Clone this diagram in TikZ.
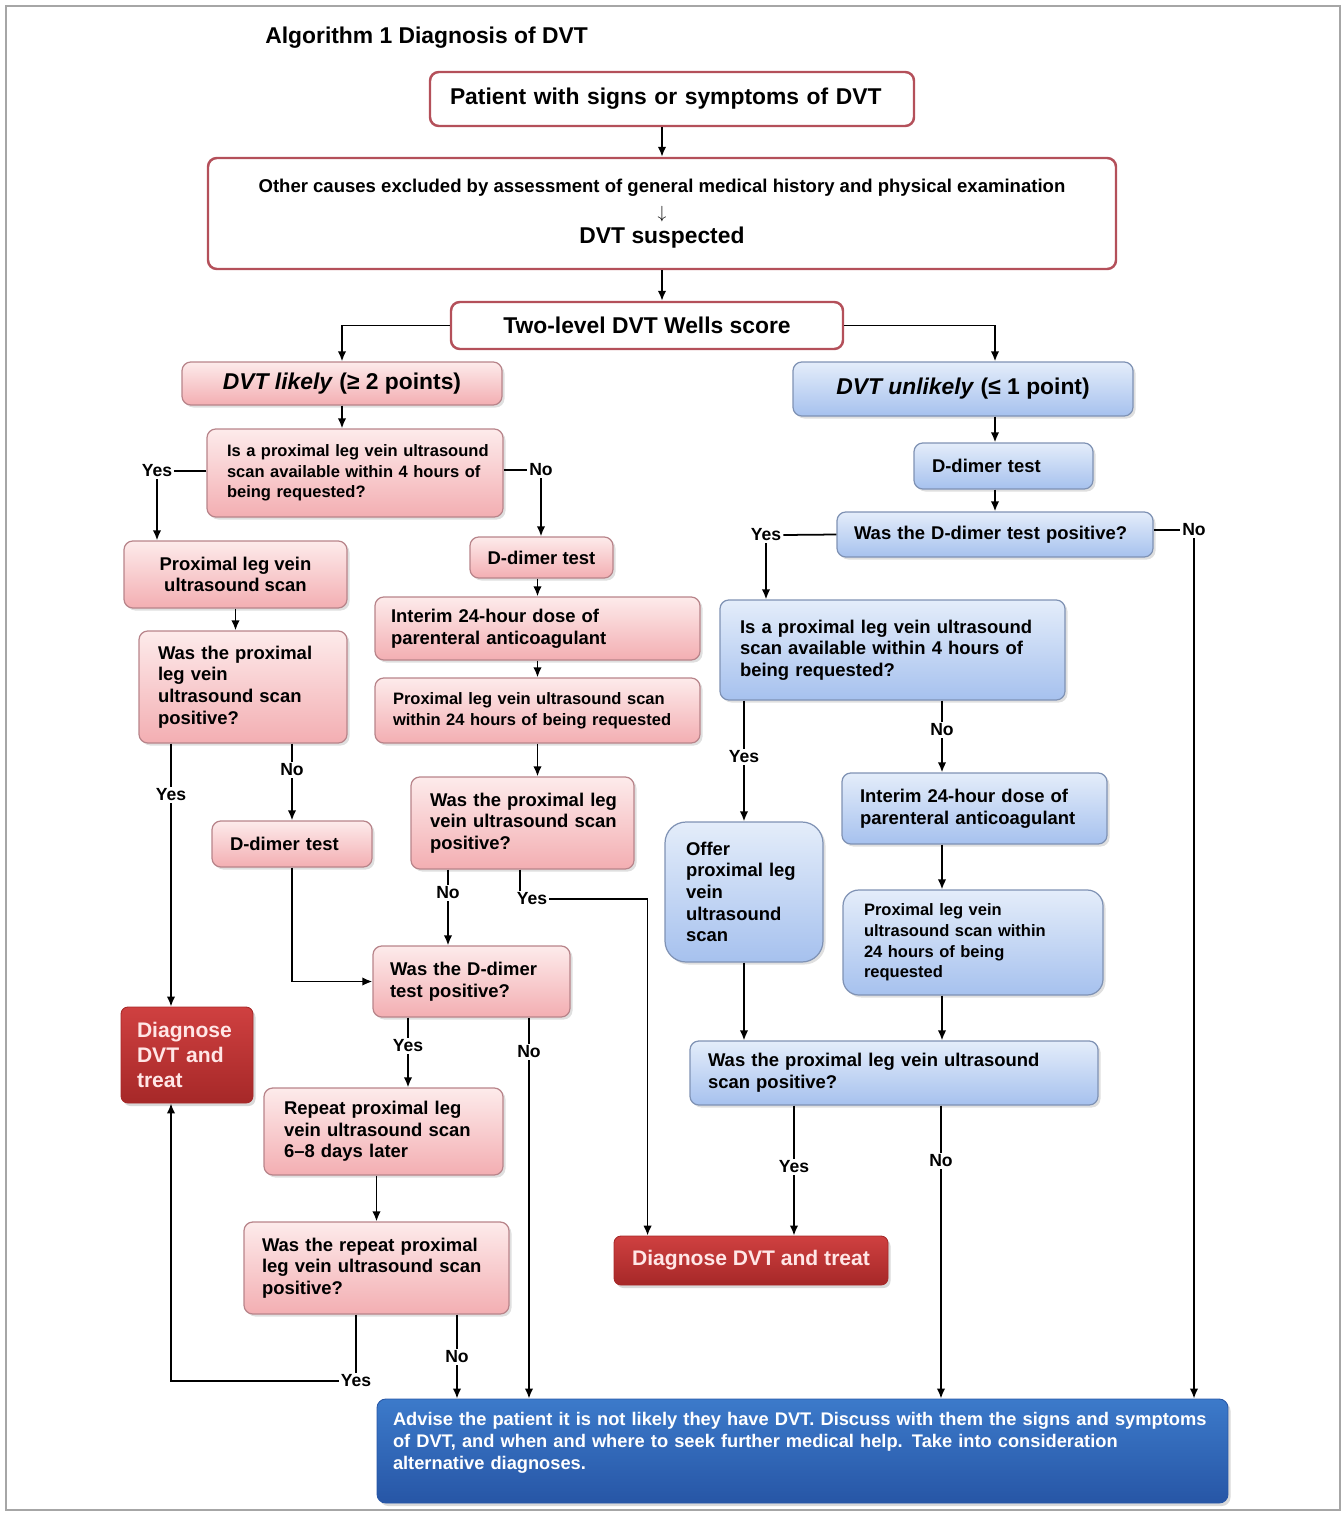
\documentclass[tikz,border=0pt]{standalone}
\usepackage{fontspec}
\setmainfont{Liberation Sans}
\usetikzlibrary{arrows.meta,positioning,shadows}

\definecolor{topred}{HTML}{B4505A}
\definecolor{pinkline}{HTML}{B8848A}
\definecolor{pinktop}{HTML}{FDEBEB}
\definecolor{pinkbot}{HTML}{F3AEB2}
\definecolor{blueline}{HTML}{7F92B4}
\definecolor{bluetop}{HTML}{E4EDFA}
\definecolor{bluebot}{HTML}{A6C1EE}
\definecolor{redtop}{HTML}{CF4040}
\definecolor{redbot}{HTML}{A62828}
\definecolor{redtext}{HTML}{FFE6E6}
\definecolor{advtop}{HTML}{3C7ACA}
\definecolor{advbot}{HTML}{2756A6}

\newcommand\szbig{\fontsize{13}{15}\selectfont\bfseries}
\newcommand\szdiag{\fontsize{12}{14.2}\selectfont\bfseries}
\newcommand\szmid{\fontsize{10.5}{12.3}\selectfont\bfseries}
\newcommand\szsm{\fontsize{9.4}{11.8}\selectfont\bfseries}
\newcommand\szlab{\fontsize{10}{12}\selectfont\bfseries}
\newdimen\bxunit \bxunit=0.2mm

\tikzset{
  % box size in pixels: width, height, left padding
  bx/.code n args={3}{%
    \pgfmathsetmacro\bxtw{#1*0.2}%
    \edef\bxtmp{\noexpand\pgfkeysalso{text width=\bxtw mm}}\bxtmp
    \pgfkeysalso{minimum width=#1*0.2mm, minimum height=#2*0.2mm,
      inner xsep=0pt, align=left, execute at begin node={\leftskip=#3\bxunit}}},
  bxc/.style 2 args={minimum width=#1*0.2mm, minimum height=#2*0.2mm, align=center},
  topbox/.style={draw=topred, line width=1.4pt, rounded corners=5pt, fill=white, font=\szbig},
  pinkbox/.style={draw=pinkline, line width=0.7pt, rounded corners=5pt,
    top color=pinktop, bottom color=pinkbot, font=\szmid,
    drop shadow={shadow xshift=0.5mm, shadow yshift=-0.5mm, opacity=0.25}},
  bluebox/.style={draw=blueline, line width=0.7pt, rounded corners=5pt,
    top color=bluetop, bottom color=bluebot, font=\szmid,
    drop shadow={shadow xshift=0.5mm, shadow yshift=-0.5mm, opacity=0.25}},
  redbox/.style={draw=redbot, line width=0.5pt, rounded corners=4pt,
    top color=redtop, bottom color=redbot, text=redtext, font=\szdiag,
    drop shadow={shadow xshift=0.5mm, shadow yshift=-0.6mm, opacity=0.3}},
  advbox/.style={draw=advbot, line width=0.5pt, rounded corners=5pt,
    top color=advtop, bottom color=advbot, text=white, font=\fontsize{10.4}{12.5}\selectfont\bfseries,
    drop shadow={shadow xshift=0.5mm, shadow yshift=-0.6mm, opacity=0.3}},
  lbl/.style={font=\szlab, inner sep=1pt},
  arr/.style={-{Latex[length=2mm,width=1.7mm]}, line width=1pt},
  ln/.style={line width=1pt}
}

\begin{document}
\begin{tikzpicture}[x=0.2mm,y=-0.2mm]
  \useasboundingbox (0,0) rectangle (1343,1513);
  \draw[gray!70, line width=0.6pt] (6,6) rectangle (1340,1510);

  \node[anchor=west, font=\szbig, inner sep=0pt] (title) at (265,38) {Algorithm 1 Diagnosis of DVT};

  % top of the chart
  \node[topbox, bx={484}{54}{20}] (pat) at (672,99) {Patient with signs or symptoms of DVT};
  \node[topbox, bxc={908}{111}, font=\fontsize{10.55}{14.2}\selectfont\bfseries] (other) at (662,213.5)
    {Other causes excluded by assessment of general medical history and physical examination\\[1pt]
     {\fontsize{10}{12}\selectfont$\downarrow$}\\ {\szbig DVT suspected}};
  \node[topbox, bxc={392}{47}] (wells) at (647,325.5) {Two-level DVT Wells score};

  % DVT likely branch
  \node[pinkbox, bxc={320}{43}, font=\szbig] (likely) at (342,383.5) {\textit{DVT likely} (≥ 2 points)};
  \node[pinkbox, bx={296}{88}{20}, font=\szsm] (availL) at (355,473)
    {Is a proximal leg vein ultrasound\\ scan available within 4 hours of\\ being requested?};
  \node[pinkbox, bxc={223}{67}] (plvL) at (235.5,574.5) {Proximal leg vein\\ ultrasound scan};
  \node[pinkbox, bx={208}{112}{19}] (posL) at (243,687)
    {Was the proximal\\ leg vein\\ ultrasound scan\\ positive?};
  \node[pinkbox, bx={160}{46}{18}] (ddimL) at (292,844) {D-dimer test};
  \node[pinkbox, bxc={143}{41}] (ddimM) at (541.5,557.5) {D-dimer test};
  \node[pinkbox, bx={325}{63}{16}] (interimM) at (537.5,628.5)
    {Interim 24-hour dose of\\ parenteral anticoagulant};
  \node[pinkbox, bx={325}{65}{18}, font=\szsm] (plv24M) at (537.5,710.5)
    {Proximal leg vein ultrasound scan\\ within 24 hours of being requested};
  \node[pinkbox, bx={223}{92}{19}] (posM) at (522.5,823)
    {Was the proximal leg\\ vein ultrasound scan\\ positive?};
  \node[pinkbox, bx={197}{71}{17}] (ddposM) at (471.5,981.5)
    {Was the D-dimer\\ test positive?};
  \node[pinkbox, bx={239}{87}{20}] (repeat) at (383.5,1131.5)
    {Repeat proximal leg\\ vein ultrasound scan\\ 6–8 days later};
  \node[pinkbox, bx={265}{92}{18}] (reposM) at (376.5,1268)
    {Was the repeat proximal\\ leg vein ultrasound scan\\ positive?};
  \node[redbox, bx={132}{96}{16}] (diagL) at (187,1055) {Diagnose\\ DVT and\\ treat};
  \node[redbox, bxc={274}{49}] (diagM) at (751,1260.5) {Diagnose DVT and treat};

  % DVT unlikely branch
  \node[bluebox, bxc={340}{54}, font=\szbig] (unlikely) at (963,389) {\textit{DVT unlikely} (≤ 1 point)};
  \node[bluebox, bx={179}{46}{18}] (ddimR) at (1003.5,466) {D-dimer test};
  \node[bluebox, bx={316}{45}{17}] (posdR) at (995,534.5) {Was the D-dimer test positive?};
  \node[bluebox, bx={345}{100}{20}] (availR) at (892.5,650)
    {Is a proximal leg vein ultrasound\\ scan available within 4 hours of\\ being requested?};
  \node[bluebox, bx={158}{140}{21}, rounded corners=12pt] (offer) at (744,892)
    {Offer\\ proximal leg\\ vein\\ ultrasound\\ scan};
  \node[bluebox, bx={265}{71}{18}] (interimR) at (974.5,808.5)
    {Interim 24-hour dose of\\ parenteral anticoagulant};
  \node[bluebox, bx={260}{105}{21}, font=\szsm, rounded corners=9pt] (plv24R) at (973,942.5)
    {Proximal leg vein\\ ultrasound scan within\\ 24 hours of being\\ requested};
  \node[bluebox, bx={408}{64}{18}] (posR3) at (894,1073)
    {Was the proximal leg vein ultrasound\\ scan positive?};

  \node[advbox, bx={851}{104}{16}] (advise) at (802.5,1451)
    {Advise the patient it is not likely they have DVT. Discuss with them the signs and symptoms\\
     of DVT, and when and where to seek further medical help. Take into consideration\\
     alternative diagnoses.\\[-4.5pt] \strut};

  % yes / no labels
  \node[lbl] (yesA) at (157,471) {Yes};
  \node[lbl] (noA) at (541,470) {No};
  \node[lbl] (yesB) at (171,795) {Yes};
  \node[lbl] (noB) at (292,770) {No};
  \node[lbl] (noC) at (448,893) {No};
  \node[lbl] (yesC) at (532,899) {Yes};
  \node[lbl] (yesD) at (408,1046) {Yes};
  \node[lbl] (noD) at (529,1052) {No};
  \node[lbl] (yesE) at (356,1381) {Yes};
  \node[lbl] (noE) at (457,1357) {No};
  \node[lbl] (yesF) at (766,535) {Yes};
  \node[lbl] (noF) at (1194,530) {No};
  \node[lbl] (yesG) at (744,757) {Yes};
  \node[lbl] (noG) at (942,730) {No};
  \node[lbl] (yesH) at (794,1167) {Yes};
  \node[lbl] (noH) at (941,1161) {No};

  % connectors
  \draw[arr] (pat.south -| other) -- (other.north);
  \draw[arr] (other.south) -- (other.south |- wells.north);
  \draw[arr] (wells.west) -| (likely.north);
  \draw[arr] (wells.east) -| (posdR |- unlikely.north);
  \draw[arr] (likely.south) -- (likely.south |- availL.north);

  \draw[ln] (availL.west |- yesA) -- (yesA.east);
  \draw[arr] (yesA.south) -- (yesA |- plvL.north);
  \draw[ln] (availL.east |- noA) -- (noA.west);
  \draw[arr] (noA.south) -- (noA |- ddimM.north);
  \draw[arr] (plvL.south) -- (plvL.south |- posL.north);
  \draw[ln] (yesB |- posL.south) -- (yesB.north);
  \draw[arr] (yesB.south) -- (yesB |- diagL.north);
  \draw[ln] (noB |- posL.south) -- (noB.north);
  \draw[arr] (noB.south) -- (noB |- ddimL.north);
  \draw[arr] (ddimL.south) |- (ddposM.west);

  \draw[arr] (ddimM.south -| interimM) -- (interimM.north);
  \draw[arr] (interimM.south) -- (plv24M.north);
  \draw[arr] (plv24M.south) -- (plv24M.south |- posM.north);
  \draw[ln] (noC |- posM.south) -- (noC.north);
  \draw[arr] (noC.south) -- (noC |- ddposM.north);
  \draw[ln] ([xshift=-2.4mm]yesC.north |- posM.south) -- ([xshift=-2.4mm]yesC.north);
  \draw[arr] (yesC.east) -| ([xshift=6.8mm]diagM.north west);
  \draw[ln] (yesD |- ddposM.south) -- (yesD.north);
  \draw[arr] (yesD.south) -- (yesD |- repeat.north);
  \draw[ln] (noD |- ddposM.south) -- (noD.north);
  \draw[arr] (noD.south) -- (noD |- advise.north);
  \draw[arr] (repeat.south -| reposM) -- (reposM.north);
  \draw[ln] (yesE |- reposM.south) -- (yesE.north);
  \draw[arr] (yesE.west) -| (yesB |- diagL.south);
  \draw[ln] (noE |- reposM.south) -- (noE.north);
  \draw[arr] (noE.south) -- (noE |- advise.north);

  \draw[arr] (unlikely.south -| posdR) -- (posdR |- ddimR.north);
  \draw[arr] (posdR |- ddimR.south) -- (posdR.north);
  \draw[ln] (posdR.west) -- (yesF.east);
  \draw[arr] (yesF.south) -- (yesF |- availR.north);
  \draw[ln] (posdR.east |- noF) -- (noF.west);
  \draw[arr] (noF.south) -- (noF |- advise.north);
  \draw[ln] (yesG |- availR.south) -- (yesG.north);
  \draw[arr] (yesG.south) -- (yesG |- offer.north);
  \draw[ln] (noG |- availR.south) -- (noG.north);
  \draw[arr] (noG.south) -- (noG |- interimR.north);
  \draw[arr] (noG |- interimR.south) -- (noG |- plv24R.north);
  \draw[arr] (noG |- plv24R.south) -- (noG |- posR3.north);
  \draw[arr] (yesG |- offer.south) -- (yesG |- posR3.north);
  \draw[ln] (yesH |- posR3.south) -- (yesH.north);
  \draw[arr] (yesH.south) -- (yesH |- diagM.north);
  \draw[ln] (noH |- posR3.south) -- (noH.north);
  \draw[arr] (noH.south) -- (noH |- advise.north);
\end{tikzpicture}
\end{document}
